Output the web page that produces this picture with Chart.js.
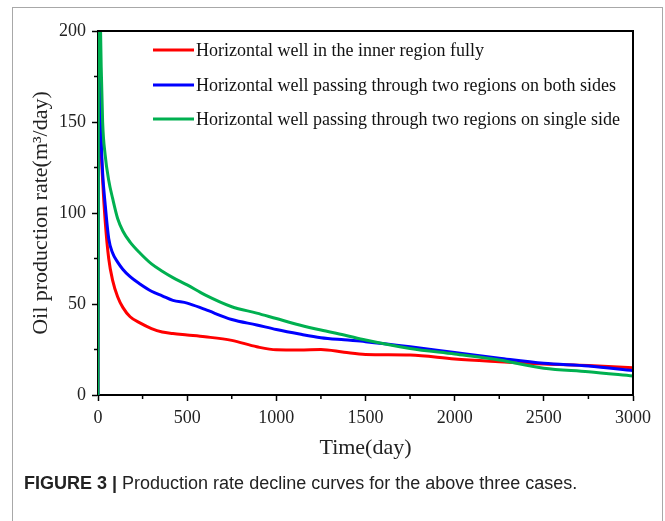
<!DOCTYPE html>
<html>
<head>
<meta charset="utf-8">
<script src="https://cdn.jsdelivr.net/npm/chart.js@4.4.1/dist/chart.umd.min.js"></script>
<style>
  html, body { margin: 0; padding: 0; background: #fff; }
  #wrap { position: relative; width: 665px; height: 521px; overflow: hidden; }
  #frame { position: absolute; left: 12px; top: 7px; width: 651px; height: 600px;
           border: 1.5px solid #a8a8a8; box-sizing: border-box; }
  #cv { position: absolute; left: 0; top: 0; }
  #caption { position: absolute; left: 24px; top: 473px; font-family: "Liberation Sans", Arial, sans-serif;
             font-size: 18px; color: #222; white-space: nowrap; }
  #caption b { font-weight: bold; }
</style>
</head>
<body>
<div id="wrap">
  <div id="frame"></div>
  <canvas id="cv" width="665" height="521"></canvas>
  <div id="caption"><b>FIGURE 3 |</b> Production rate decline curves for the above three cases.</div>
</div>
<script>
const times = [0, 4, 10, 18, 26, 40, 60, 82, 110, 140, 180, 235, 300, 360, 420, 500, 600, 750, 890, 1000, 1130, 1250, 1380, 1500, 1750, 2000, 2250, 2500, 2750, 3000];
const innerFully = [0, 230, 170, 135, 118, 96, 75, 63, 54, 48, 43, 39.6, 36.5, 34.6, 33.8, 33, 32, 30, 26.5, 24.8, 24.7, 25, 23.5, 22.3, 22, 19.8, 18.3, 17, 16.2, 15];
const bothSides = [0, 240, 175, 140, 122, 105, 86, 78, 73, 69, 65, 61, 57, 54.5, 52, 50.5, 47, 41.5, 38.5, 36, 33.5, 31.5, 30.3, 29.3, 26.5, 23.3, 20.2, 17.4, 16, 13.4];
const singleSide = [0, 250, 225, 180, 150, 132, 118, 108, 97, 90, 84, 78, 72, 68, 64.5, 60.5, 55, 48.5, 45, 42, 38.5, 35.7, 33, 30.2, 25.6, 22.5, 19.2, 14.7, 12.8, 10.4];
const seriesLabels = [
  "Horizontal well in the inner region fully",
  "Horizontal well passing through two regions on both sides",
  "Horizontal well passing through two regions on single side"
];
const seriesColors = ["rgb(255,0,0)", "rgb(0,0,255)", "rgb(0,176,80)"];
const xTicks = [0, 500, 1000, 1500, 2000, 2500, 3000];
const yTicks = [0, 50, 100, 150, 200];

const SERIF = '"Liberation Serif", "Times New Roman", serif';

function pts(vals) { return times.map((t, i) => ({ x: t, y: vals[i] })); }

const datasets = [innerFully, bothSides, singleSide].map((vals, i) => ({
  label: seriesLabels[i],
  data: pts(vals),
  borderColor: seriesColors[i],
  backgroundColor: seriesColors[i],
  borderWidth: 3,
  pointRadius: 0,
  tension: 0.4,
  cubicInterpolationMode: 'monotone',
  order: 2 - i
}));

const boxPlugin = {
  id: 'boxAndLegend',
  afterDraw(chart) {
    const { ctx, chartArea: a, scales } = chart;
    ctx.save();
    ctx.strokeStyle = '#000';
    ctx.lineWidth = 1.5;
    for (let v = 250; v < 3000; v += 500) {
      const x = scales.x.getPixelForValue(v);
      ctx.beginPath(); ctx.moveTo(x, a.bottom); ctx.lineTo(x, a.bottom + 4); ctx.stroke();
    }
    for (let v = 25; v < 200; v += 50) {
      const y = scales.y.getPixelForValue(v);
      ctx.beginPath(); ctx.moveTo(a.left, y); ctx.lineTo(a.left - 4, y); ctx.stroke();
    }
    ctx.lineWidth = 2;
    ctx.beginPath();
    ctx.moveTo(a.left, a.top); ctx.lineTo(a.right, a.top); ctx.lineTo(a.right, a.bottom);
    ctx.stroke();
    const rows = [50, 85, 119];
    ctx.font = '18px ' + SERIF;
    ctx.textBaseline = 'middle';
    ctx.fillStyle = '#111';
    chart.data.datasets.forEach((ds, i) => {
      ctx.strokeStyle = ds.borderColor;
      ctx.lineWidth = 3;
      ctx.beginPath(); ctx.moveTo(153, rows[i]); ctx.lineTo(194, rows[i]); ctx.stroke();
      ctx.fillText(ds.label, 196, rows[i] + 1);
    });
    ctx.restore();
  }
};

new Chart(document.getElementById('cv'), {
  type: 'line',
  data: { datasets },
  options: {
    responsive: false,
    animation: false,
    devicePixelRatio: 1,
    layout: { padding: { top: 31, right: 32, left: 0, bottom: 56 } },
    plugins: { legend: { display: false }, tooltip: { enabled: false } },
    scales: {
      x: {
        type: 'linear', min: 0, max: 3000,
        afterFit(s) { s.height = 70; },
        afterBuildTicks(s) { s.ticks = xTicks.map(v => ({ value: v })); },
        border: { display: true, color: '#000', width: 2 },
        grid: { display: true, drawOnChartArea: false, drawTicks: true, tickLength: 6, tickWidth: 1.5, tickColor: '#000' },
        ticks: { color: '#222', font: { family: SERIF, size: 18 }, padding: 6, maxRotation: 0, callback: v => String(v) },
        title: { display: true, text: 'Time(day)', color: '#222', font: { family: SERIF, size: 22 }, padding: { top: 4, bottom: 4 } }
      },
      y: {
        type: 'linear', min: 0, max: 200,
        afterFit(s) { s.width = 98; },
        afterBuildTicks(s) { s.ticks = yTicks.map(v => ({ value: v })); },
        border: { display: true, color: '#000', width: 2 },
        grid: { display: true, drawOnChartArea: false, drawTicks: true, tickLength: 6, tickWidth: 1.5, tickColor: '#000' },
        ticks: { color: '#222', font: { family: SERIF, size: 18 }, padding: 6, callback: v => String(v) },
        title: { display: true, text: 'Oil production rate(m³/day)', color: '#222', font: { family: SERIF, size: 22 }, padding: { top: 28, bottom: 0 } }
      }
    }
  },
  plugins: [boxPlugin]
});
</script>
</body>
</html>
